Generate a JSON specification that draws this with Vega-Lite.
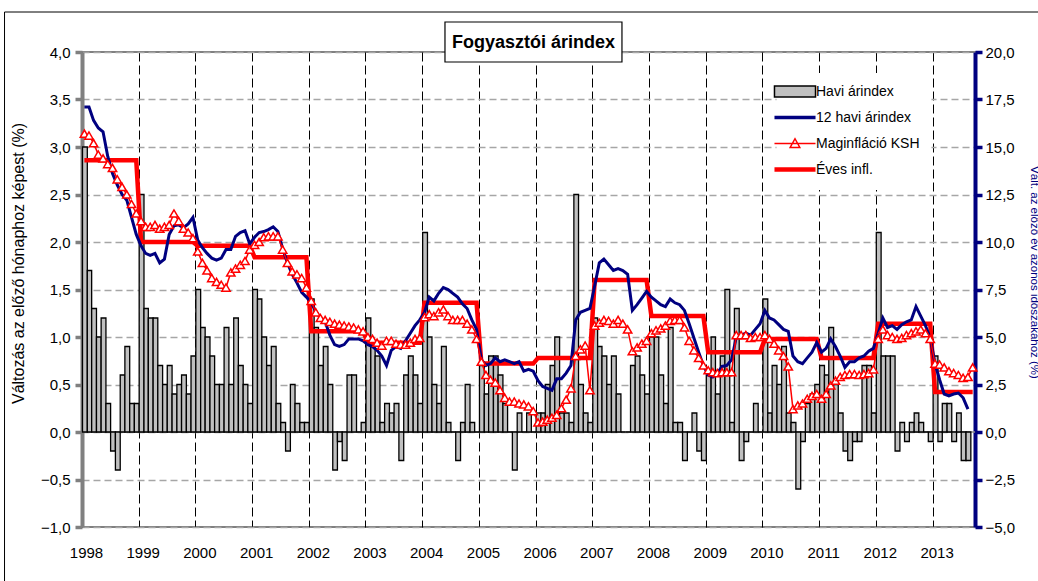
{
  "$schema": "https://vega.github.io/schema/vega-lite/v6.json",
  "width": 893,
  "height": 475,
  "autosize": {"type": "none"},
  "padding": {"left": 82, "top": 52, "right": 63, "bottom": 54},
  "background": "white",
  "config": {
    "font": "Liberation Sans",
    "view": {"stroke": "#808080", "strokeWidth": 2},
    "axis": {"labelFont": "Liberation Sans", "titleFont": "Liberation Sans", "labelColor": "black", "titleFontWeight": "normal"}
  },
  "data": {
    "format": {"parse": {"ho": "date:'%Y-%m'"}},
    "values": [
      {"ho":"1998-01","havi":3.0,"ev12":17.1,"mag":15.7,"eves":14.3},
      {"ho":"1998-02","havi":1.7,"ev12":17.1,"mag":15.6,"eves":14.3},
      {"ho":"1998-03","havi":1.3,"ev12":16.4,"mag":15.2,"eves":14.3},
      {"ho":"1998-04","havi":1.0,"ev12":16.0,"mag":14.6,"eves":14.3},
      {"ho":"1998-05","havi":1.2,"ev12":15.8,"mag":14.4,"eves":14.3},
      {"ho":"1998-06","havi":0.3,"ev12":14.5,"mag":14.1,"eves":14.3},
      {"ho":"1998-07","havi":-0.2,"ev12":13.6,"mag":13.9,"eves":14.3},
      {"ho":"1998-08","havi":-0.4,"ev12":13.0,"mag":13.3,"eves":14.3},
      {"ho":"1998-09","havi":0.6,"ev12":12.5,"mag":12.9,"eves":14.3},
      {"ho":"1998-10","havi":0.9,"ev12":12.2,"mag":12.5,"eves":14.3},
      {"ho":"1998-11","havi":0.3,"ev12":11.3,"mag":12.0,"eves":14.3},
      {"ho":"1998-12","havi":0.3,"ev12":10.4,"mag":11.5,"eves":14.3},
      {"ho":"1999-01","havi":2.5,"ev12":9.8,"mag":11.1,"eves":10.0},
      {"ho":"1999-02","havi":1.3,"ev12":9.4,"mag":10.8,"eves":10.0},
      {"ho":"1999-03","havi":1.2,"ev12":9.3,"mag":10.8,"eves":10.0},
      {"ho":"1999-04","havi":1.2,"ev12":9.4,"mag":10.9,"eves":10.0},
      {"ho":"1999-05","havi":0.7,"ev12":8.9,"mag":10.7,"eves":10.0},
      {"ho":"1999-06","havi":0.5,"ev12":9.1,"mag":10.8,"eves":10.0},
      {"ho":"1999-07","havi":0.7,"ev12":10.4,"mag":10.9,"eves":10.0},
      {"ho":"1999-08","havi":0.4,"ev12":10.85,"mag":11.5,"eves":10.0},
      {"ho":"1999-09","havi":0.5,"ev12":10.9,"mag":11.1,"eves":10.0},
      {"ho":"1999-10","havi":0.6,"ev12":10.75,"mag":10.7,"eves":10.0},
      {"ho":"1999-11","havi":0.4,"ev12":10.95,"mag":10.5,"eves":10.0},
      {"ho":"1999-12","havi":0.8,"ev12":11.3,"mag":10.2,"eves":10.0},
      {"ho":"2000-01","havi":1.5,"ev12":10.1,"mag":9.5,"eves":9.8},
      {"ho":"2000-02","havi":1.1,"ev12":9.7,"mag":8.9,"eves":9.8},
      {"ho":"2000-03","havi":1.0,"ev12":9.4,"mag":8.5,"eves":9.8},
      {"ho":"2000-04","havi":0.8,"ev12":9.15,"mag":8.1,"eves":9.8},
      {"ho":"2000-05","havi":0.5,"ev12":9.05,"mag":7.9,"eves":9.8},
      {"ho":"2000-06","havi":0.5,"ev12":9.15,"mag":7.75,"eves":9.8},
      {"ho":"2000-07","havi":1.1,"ev12":9.6,"mag":7.6,"eves":9.8},
      {"ho":"2000-08","havi":0.5,"ev12":9.6,"mag":8.4,"eves":9.8},
      {"ho":"2000-09","havi":1.2,"ev12":10.3,"mag":8.6,"eves":9.8},
      {"ho":"2000-10","havi":0.7,"ev12":10.5,"mag":8.8,"eves":9.8},
      {"ho":"2000-11","havi":0.5,"ev12":10.6,"mag":9.0,"eves":9.8},
      {"ho":"2000-12","havi":0.3,"ev12":9.9,"mag":9.6,"eves":9.8},
      {"ho":"2001-01","havi":1.5,"ev12":10.25,"mag":9.85,"eves":9.2},
      {"ho":"2001-02","havi":1.4,"ev12":10.5,"mag":10.0,"eves":9.2},
      {"ho":"2001-03","havi":1.0,"ev12":10.55,"mag":10.25,"eves":9.2},
      {"ho":"2001-04","havi":0.7,"ev12":10.65,"mag":10.3,"eves":9.2},
      {"ho":"2001-05","havi":0.9,"ev12":10.8,"mag":10.3,"eves":9.2},
      {"ho":"2001-06","havi":0.3,"ev12":10.55,"mag":10.3,"eves":9.2},
      {"ho":"2001-07","havi":0.1,"ev12":9.65,"mag":9.6,"eves":9.2},
      {"ho":"2001-08","havi":-0.2,"ev12":8.9,"mag":8.9,"eves":9.2},
      {"ho":"2001-09","havi":0.5,"ev12":8.3,"mag":8.45,"eves":9.2},
      {"ho":"2001-10","havi":0.3,"ev12":7.85,"mag":8.3,"eves":9.2},
      {"ho":"2001-11","havi":0.1,"ev12":7.35,"mag":8.1,"eves":9.2},
      {"ho":"2001-12","havi":0.1,"ev12":7.1,"mag":7.6,"eves":9.2},
      {"ho":"2002-01","havi":1.4,"ev12":6.8,"mag":6.9,"eves":5.3},
      {"ho":"2002-02","havi":1.1,"ev12":6.35,"mag":6.3,"eves":5.3},
      {"ho":"2002-03","havi":0.7,"ev12":6.0,"mag":6.0,"eves":5.3},
      {"ho":"2002-04","havi":0.9,"ev12":5.8,"mag":5.9,"eves":5.3},
      {"ho":"2002-05","havi":0.5,"ev12":5.1,"mag":5.8,"eves":5.3},
      {"ho":"2002-06","havi":-0.4,"ev12":4.6,"mag":5.7,"eves":5.3},
      {"ho":"2002-07","havi":-0.1,"ev12":4.5,"mag":5.65,"eves":5.3},
      {"ho":"2002-08","havi":-0.3,"ev12":4.6,"mag":5.6,"eves":5.3},
      {"ho":"2002-09","havi":0.6,"ev12":4.9,"mag":5.55,"eves":5.3},
      {"ho":"2002-10","havi":0.6,"ev12":4.9,"mag":5.5,"eves":5.3},
      {"ho":"2002-11","havi":0.0,"ev12":4.9,"mag":5.4,"eves":5.3},
      {"ho":"2002-12","havi":0.1,"ev12":4.8,"mag":5.3,"eves":5.3},
      {"ho":"2003-01","havi":1.2,"ev12":4.6,"mag":5.0,"eves":4.7},
      {"ho":"2003-02","havi":0.9,"ev12":4.5,"mag":4.9,"eves":4.7},
      {"ho":"2003-03","havi":0.8,"ev12":4.3,"mag":4.7,"eves":4.7},
      {"ho":"2003-04","havi":0.1,"ev12":4.0,"mag":4.55,"eves":4.7},
      {"ho":"2003-05","havi":0.3,"ev12":3.5,"mag":4.8,"eves":4.7},
      {"ho":"2003-06","havi":0.2,"ev12":4.3,"mag":4.8,"eves":4.7},
      {"ho":"2003-07","havi":0.3,"ev12":4.5,"mag":4.65,"eves":4.7},
      {"ho":"2003-08","havi":-0.3,"ev12":4.4,"mag":4.6,"eves":4.7},
      {"ho":"2003-09","havi":0.6,"ev12":4.8,"mag":4.6,"eves":4.7},
      {"ho":"2003-10","havi":0.8,"ev12":5.2,"mag":4.7,"eves":4.7},
      {"ho":"2003-11","havi":0.6,"ev12":5.6,"mag":4.9,"eves":4.7},
      {"ho":"2003-12","havi":0.3,"ev12":5.9,"mag":4.95,"eves":4.7},
      {"ho":"2004-01","havi":2.1,"ev12":6.3,"mag":6.05,"eves":6.8},
      {"ho":"2004-02","havi":1.0,"ev12":7.1,"mag":6.2,"eves":6.8},
      {"ho":"2004-03","havi":0.5,"ev12":6.9,"mag":6.1,"eves":6.8},
      {"ho":"2004-04","havi":0.3,"ev12":7.3,"mag":6.3,"eves":6.8},
      {"ho":"2004-05","havi":0.9,"ev12":7.6,"mag":6.45,"eves":6.8},
      {"ho":"2004-06","havi":0.1,"ev12":7.5,"mag":6.1,"eves":6.8},
      {"ho":"2004-07","havi":0.0,"ev12":7.3,"mag":5.9,"eves":6.8},
      {"ho":"2004-08","havi":-0.3,"ev12":7.1,"mag":5.9,"eves":6.8},
      {"ho":"2004-09","havi":0.1,"ev12":6.75,"mag":5.9,"eves":6.8},
      {"ho":"2004-10","havi":0.5,"ev12":6.5,"mag":5.7,"eves":6.8},
      {"ho":"2004-11","havi":0.1,"ev12":5.9,"mag":5.4,"eves":6.8},
      {"ho":"2004-12","havi":0.0,"ev12":5.4,"mag":4.9,"eves":6.8},
      {"ho":"2005-01","havi":0.7,"ev12":3.8,"mag":3.7,"eves":3.6},
      {"ho":"2005-02","havi":0.4,"ev12":3.5,"mag":3.0,"eves":3.6},
      {"ho":"2005-03","havi":0.8,"ev12":3.6,"mag":2.75,"eves":3.6},
      {"ho":"2005-04","havi":0.8,"ev12":3.9,"mag":2.6,"eves":3.6},
      {"ho":"2005-05","havi":0.6,"ev12":3.7,"mag":2.2,"eves":3.6},
      {"ho":"2005-06","havi":0.3,"ev12":3.8,"mag":1.8,"eves":3.6},
      {"ho":"2005-07","havi":0.0,"ev12":3.7,"mag":1.6,"eves":3.6},
      {"ho":"2005-08","havi":-0.4,"ev12":3.6,"mag":1.6,"eves":3.6},
      {"ho":"2005-09","havi":0.2,"ev12":3.7,"mag":1.5,"eves":3.6},
      {"ho":"2005-10","havi":0.0,"ev12":3.2,"mag":1.45,"eves":3.6},
      {"ho":"2005-11","havi":0.2,"ev12":3.3,"mag":1.35,"eves":3.6},
      {"ho":"2005-12","havi":0.0,"ev12":3.2,"mag":1.1,"eves":3.6},
      {"ho":"2006-01","havi":0.2,"ev12":2.7,"mag":0.5,"eves":3.9},
      {"ho":"2006-02","havi":0.2,"ev12":2.4,"mag":0.55,"eves":3.9},
      {"ho":"2006-03","havi":0.5,"ev12":2.3,"mag":0.65,"eves":3.9},
      {"ho":"2006-04","havi":0.7,"ev12":2.2,"mag":0.75,"eves":3.9},
      {"ho":"2006-05","havi":1.0,"ev12":2.8,"mag":0.9,"eves":3.9},
      {"ho":"2006-06","havi":0.2,"ev12":2.8,"mag":1.25,"eves":3.9},
      {"ho":"2006-07","havi":0.2,"ev12":3.1,"mag":1.7,"eves":3.9},
      {"ho":"2006-08","havi":0.1,"ev12":3.5,"mag":2.3,"eves":3.9},
      {"ho":"2006-09","havi":2.5,"ev12":5.9,"mag":4.0,"eves":3.9},
      {"ho":"2006-10","havi":0.5,"ev12":6.3,"mag":4.35,"eves":3.9},
      {"ho":"2006-11","havi":0.2,"ev12":6.4,"mag":4.55,"eves":3.9},
      {"ho":"2006-12","havi":0.1,"ev12":6.5,"mag":2.2,"eves":3.9},
      {"ho":"2007-01","havi":1.2,"ev12":7.7,"mag":5.6,"eves":8.0},
      {"ho":"2007-02","havi":0.9,"ev12":8.9,"mag":5.75,"eves":8.0},
      {"ho":"2007-03","havi":0.8,"ev12":9.1,"mag":5.9,"eves":8.0},
      {"ho":"2007-04","havi":0.5,"ev12":8.8,"mag":5.85,"eves":8.0},
      {"ho":"2007-05","havi":0.8,"ev12":8.5,"mag":5.7,"eves":8.0},
      {"ho":"2007-06","havi":0.4,"ev12":8.6,"mag":5.9,"eves":8.0},
      {"ho":"2007-07","havi":0.0,"ev12":8.5,"mag":5.7,"eves":8.0},
      {"ho":"2007-08","havi":0.0,"ev12":8.3,"mag":5.4,"eves":8.0},
      {"ho":"2007-09","havi":0.7,"ev12":6.4,"mag":4.25,"eves":8.0},
      {"ho":"2007-10","havi":0.8,"ev12":6.7,"mag":4.45,"eves":8.0},
      {"ho":"2007-11","havi":0.6,"ev12":7.05,"mag":4.65,"eves":8.0},
      {"ho":"2007-12","havi":0.4,"ev12":7.4,"mag":4.8,"eves":8.0},
      {"ho":"2008-01","havi":1.0,"ev12":7.1,"mag":5.2,"eves":6.1},
      {"ho":"2008-02","havi":1.0,"ev12":6.9,"mag":5.35,"eves":6.1},
      {"ho":"2008-03","havi":0.6,"ev12":6.7,"mag":5.45,"eves":6.1},
      {"ho":"2008-04","havi":0.3,"ev12":6.6,"mag":5.6,"eves":6.1},
      {"ho":"2008-05","havi":1.1,"ev12":7.0,"mag":5.85,"eves":6.1},
      {"ho":"2008-06","havi":0.1,"ev12":6.8,"mag":5.9,"eves":6.1},
      {"ho":"2008-07","havi":0.1,"ev12":6.7,"mag":5.9,"eves":6.1},
      {"ho":"2008-08","havi":-0.3,"ev12":6.4,"mag":5.5,"eves":6.1},
      {"ho":"2008-09","havi":0.0,"ev12":5.7,"mag":4.8,"eves":6.1},
      {"ho":"2008-10","havi":0.2,"ev12":4.95,"mag":4.3,"eves":6.1},
      {"ho":"2008-11","havi":-0.2,"ev12":4.2,"mag":3.9,"eves":6.1},
      {"ho":"2008-12","havi":-0.3,"ev12":3.5,"mag":3.5,"eves":6.1},
      {"ho":"2009-01","havi":0.6,"ev12":3.0,"mag":3.25,"eves":4.2},
      {"ho":"2009-02","havi":1.0,"ev12":2.9,"mag":3.15,"eves":4.2},
      {"ho":"2009-03","havi":0.4,"ev12":3.1,"mag":3.1,"eves":4.2},
      {"ho":"2009-04","havi":0.8,"ev12":3.45,"mag":3.15,"eves":4.2},
      {"ho":"2009-05","havi":1.5,"ev12":3.5,"mag":3.15,"eves":4.2},
      {"ho":"2009-06","havi":0.1,"ev12":3.8,"mag":3.15,"eves":4.2},
      {"ho":"2009-07","havi":1.3,"ev12":5.0,"mag":5.1,"eves":4.2},
      {"ho":"2009-08","havi":-0.3,"ev12":5.1,"mag":5.1,"eves":4.2},
      {"ho":"2009-09","havi":-0.1,"ev12":5.2,"mag":5.1,"eves":4.2},
      {"ho":"2009-10","havi":0.0,"ev12":5.1,"mag":4.95,"eves":4.2},
      {"ho":"2009-11","havi":0.3,"ev12":5.4,"mag":5.0,"eves":4.2},
      {"ho":"2009-12","havi":0.0,"ev12":5.7,"mag":5.0,"eves":4.2},
      {"ho":"2010-01","havi":1.4,"ev12":6.4,"mag":5.1,"eves":4.9},
      {"ho":"2010-02","havi":0.2,"ev12":6.0,"mag":4.9,"eves":4.9},
      {"ho":"2010-03","havi":0.7,"ev12":5.9,"mag":4.65,"eves":4.9},
      {"ho":"2010-04","havi":0.5,"ev12":5.65,"mag":4.3,"eves":4.9},
      {"ho":"2010-05","havi":0.9,"ev12":5.4,"mag":4.0,"eves":4.9},
      {"ho":"2010-06","havi":0.2,"ev12":5.3,"mag":3.45,"eves":4.9},
      {"ho":"2010-07","havi":0.1,"ev12":4.0,"mag":1.2,"eves":4.9},
      {"ho":"2010-08","havi":-0.6,"ev12":3.7,"mag":1.4,"eves":4.9},
      {"ho":"2010-09","havi":-0.1,"ev12":3.6,"mag":1.5,"eves":4.9},
      {"ho":"2010-10","havi":0.3,"ev12":3.9,"mag":1.75,"eves":4.9},
      {"ho":"2010-11","havi":0.4,"ev12":4.2,"mag":1.9,"eves":4.9},
      {"ho":"2010-12","havi":0.5,"ev12":4.7,"mag":2.0,"eves":4.9},
      {"ho":"2011-01","havi":0.7,"ev12":4.2,"mag":1.75,"eves":3.9},
      {"ho":"2011-02","havi":0.6,"ev12":4.4,"mag":2.0,"eves":3.9},
      {"ho":"2011-03","havi":1.1,"ev12":4.9,"mag":2.45,"eves":3.9},
      {"ho":"2011-04","havi":0.5,"ev12":4.5,"mag":2.7,"eves":3.9},
      {"ho":"2011-05","havi":0.2,"ev12":4.0,"mag":2.9,"eves":3.9},
      {"ho":"2011-06","havi":-0.2,"ev12":3.4,"mag":3.0,"eves":3.9},
      {"ho":"2011-07","havi":-0.3,"ev12":3.7,"mag":3.05,"eves":3.9},
      {"ho":"2011-08","havi":-0.1,"ev12":3.7,"mag":3.05,"eves":3.9},
      {"ho":"2011-09","havi":-0.1,"ev12":3.9,"mag":3.0,"eves":3.9},
      {"ho":"2011-10","havi":0.7,"ev12":4.0,"mag":3.05,"eves":3.9},
      {"ho":"2011-11","havi":0.7,"ev12":4.25,"mag":3.1,"eves":3.9},
      {"ho":"2011-12","havi":0.2,"ev12":4.4,"mag":3.3,"eves":3.9},
      {"ho":"2012-01","havi":2.1,"ev12":5.2,"mag":4.9,"eves":5.7},
      {"ho":"2012-02","havi":0.8,"ev12":6.0,"mag":5.4,"eves":5.7},
      {"ho":"2012-03","havi":0.8,"ev12":5.5,"mag":5.1,"eves":5.7},
      {"ho":"2012-04","havi":0.8,"ev12":5.6,"mag":5.0,"eves":5.7},
      {"ho":"2012-05","havi":-0.2,"ev12":5.4,"mag":4.9,"eves":5.7},
      {"ho":"2012-06","havi":0.1,"ev12":5.65,"mag":4.95,"eves":5.7},
      {"ho":"2012-07","havi":-0.1,"ev12":5.8,"mag":5.1,"eves":5.7},
      {"ho":"2012-08","havi":0.1,"ev12":5.9,"mag":5.2,"eves":5.7},
      {"ho":"2012-09","havi":0.2,"ev12":6.6,"mag":5.3,"eves":5.7},
      {"ho":"2012-10","havi":0.1,"ev12":6.1,"mag":5.4,"eves":5.7},
      {"ho":"2012-11","havi":0.0,"ev12":5.6,"mag":5.2,"eves":5.7},
      {"ho":"2012-12","havi":-0.1,"ev12":4.95,"mag":4.9,"eves":5.7},
      {"ho":"2013-01","havi":0.8,"ev12":3.6,"mag":3.6,"eves":2.1},
      {"ho":"2013-02","havi":-0.1,"ev12":2.75,"mag":3.55,"eves":2.1},
      {"ho":"2013-03","havi":0.3,"ev12":2.0,"mag":3.4,"eves":2.1},
      {"ho":"2013-04","havi":0.3,"ev12":1.9,"mag":3.2,"eves":2.1},
      {"ho":"2013-05","havi":-0.1,"ev12":2.0,"mag":3.1,"eves":2.1},
      {"ho":"2013-06","havi":0.2,"ev12":2.05,"mag":3.0,"eves":2.1},
      {"ho":"2013-07","havi":-0.3,"ev12":1.8,"mag":2.85,"eves":2.1},
      {"ho":"2013-08","havi":-0.3,"ev12":1.2,"mag":2.9,"eves":2.1},
      {"ho":"2013-09","havi":null,"ev12":null,"mag":3.4,"eves":2.1}
    ]
  },
  "layer": [
    {
      "layer": [
        {
          "data": {"values": [{}]},
          "mark": {"type": "rule", "color": "#909090", "strokeWidth": 1.5},
          "encoding": {"y": {"datum": 0, "type": "quantitative"}}
        },
        {
          "mark": {"type": "bar", "filled": false, "fill": "#C0C0C0", "fillOpacity": 1, "strokeWidth": 1.3, "binSpacing": 0},
          "encoding": {
            "x": {
              "field": "ho", "timeUnit": "yearmonth", "type": "temporal",
              "scale": {"domain": [{"year": 1998, "month": 1, "date": 1}, {"year": 2013, "month": 10, "date": 1}]},
              "axis": {
                "title": null, "format": "%Y", "formatType": "time",
                "tickCount": {"interval": "year", "step": 1},
                "grid": true, "gridColor": "black", "gridDash": [9, 4], "gridWidth": 1,
                "ticks": false, "domain": false,
                "labelFontSize": 15, "labelPadding": 18, "labelOffset": 4,
                "labelAlign": "center", "labelFlush": false, "labelOverlap": false
              }
            },
            "y": {
              "field": "havi", "type": "quantitative",
              "scale": {"domain": [-1, 4], "nice": false, "zero": false},
              "axis": {
                "title": "Változás az előző hónaphoz képest (%)",
                "titleFontSize": 16, "titleColor": "black",
                "titleAngle": -90, "titleX": -59, "titleY": 211, "titleAlign": "center", "titleBaseline": "alphabetic",
                "values": [-1, -0.5, 0, 0.5, 1, 1.5, 2, 2.5, 3, 3.5, 4],
                "labelExpr": "replace(format(datum.value, '.1f'), '.', ',')",
                "labelFontSize": 15, "labelPadding": 5,
                "tickSize": 7, "tickWidth": 3.5, "tickColor": "#808080",
                "domainColor": "#808080", "domainWidth": 4,
                "grid": true, "gridColor": "#a6a6a6", "gridDash": [7, 4], "gridWidth": 1.5
              }
            },
            "color": {
              "datum": "Havi árindex", "type": "nominal",
              "scale": {"domain": ["Havi árindex", "12 havi árindex", "Maginfláció KSH", "Éves infl."], "range": ["black", "#000080", "#FF0000", "#FF0000"]},
              "legend": {
                "orient": "none", "legendX": 694.5, "legendY": 21, "title": null,
                "fillColor": "white", "padding": 11.5, "symbolSize": 576,
                "labelFontSize": 14, "labelFont": "Liberation Sans", "labelColor": "black",
                "labelOffset": 14, "rowPadding": 8, "gridAlign": "all", "labelLimit": 300,
                "symbolOpacity": 1,
                "symbolType": {"expr": "datum.value === 'Havi árindex' ? 'M-1.71,-0.45H1.71V0.45H-1.71Z' : datum.value === 'Maginfláció KSH' ? 'M-1.71,0H1.71M-0.4,0.33L0,-0.4L0.4,0.33Z' : 'M-1.71,0H1.71'"},
                "symbolFillColor": {"expr": "datum.value === 'Havi árindex' ? '#C0C0C0' : datum.value === 'Maginfláció KSH' ? 'white' : 'transparent'"},
                "symbolStrokeColor": {"expr": "datum.value === 'Havi árindex' ? 'black' : datum.value === '12 havi árindex' ? '#000080' : '#FF0000'"},
                "symbolStrokeWidth": {"expr": "datum.value === 'Havi árindex' ? 1.5 : datum.value === '12 havi árindex' ? 3.5 : datum.value === 'Maginfláció KSH' ? 1.5 : 4.5"}
              }
            }
          }
        },
        {
          "data": {"values": [{}]},
          "mark": {"type": "rect", "fill": "white", "stroke": "black", "strokeWidth": 1.2},
          "encoding": {
            "x": {"datum": {"year": 2004, "month": 5, "date": 27}, "type": "temporal"},
            "x2": {"datum": {"year": 2007, "month": 7, "date": 11}},
            "y": {"datum": 4.316, "type": "quantitative"},
            "y2": {"datum": 3.895}
          }
        },
        {
          "data": {"values": [{}]},
          "mark": {"type": "text", "text": "Fogyasztói árindex", "font": "Liberation Sans", "fontSize": 18, "fontWeight": "bold", "color": "black", "align": "center", "baseline": "alphabetic"},
          "encoding": {
            "x": {"datum": {"year": 2005, "month": 12, "date": 18}, "type": "temporal"},
            "y": {"datum": 4.047, "type": "quantitative"}
          }
        },
        {
          "data": {"values": [{}]},
          "mark": {"type": "rect", "fill": null, "fillOpacity": 0, "stroke": "black", "strokeWidth": 1},
          "encoding": {
            "x": {"datum": {"year": 1996, "month": 8, "date": 20}, "type": "temporal"},
            "x2": {"datum": {"year": 2016, "month": 1, "date": 1}},
            "y": {"datum": 4.421, "type": "quantitative"},
            "y2": {"datum": -2}
          }
        }
      ]
    },
    {
      "layer": [
        {
          "mark": {"type": "line", "strokeWidth": 4.5},
          "encoding": {
            "x": {"field": "ho", "timeUnit": "yearmonth", "type": "temporal", "bandPosition": 0.5},
            "y": {
              "field": "eves", "type": "quantitative",
              "scale": {"domain": [-5, 20], "nice": false, "zero": false},
              "axis": {
                "orient": "right",
                "title": "Vált. az előző év azonos időszakához (%)",
                "titleColor": "#000080", "titleFontSize": 11.5,
                "titleAngle": 90, "titleX": 55, "titleY": 220, "titleAlign": "center", "titleBaseline": "alphabetic",
                "values": [-5, -2.5, 0, 2.5, 5, 7.5, 10, 12.5, 15, 17.5, 20],
                "labelExpr": "replace(format(datum.value, '.1f'), '.', ',')",
                "labelFontSize": 15, "labelPadding": 3,
                "tickSize": 7, "tickWidth": 3.5, "tickColor": "#000080",
                "domainColor": "#000080", "domainWidth": 4,
                "grid": false
              }
            },
            "color": {"datum": "Éves infl.", "type": "nominal"}
          }
        },
        {
          "mark": {"type": "line", "strokeWidth": 3},
          "encoding": {
            "x": {"field": "ho", "timeUnit": "yearmonth", "type": "temporal", "bandPosition": 0.5},
            "y": {"field": "ev12", "type": "quantitative"},
            "color": {"datum": "12 havi árindex", "type": "nominal", "legend": {"encode": {"labels": {"fontSize": {"value": 14}}}}}
          }
        },
        {
          "mark": {"type": "line", "strokeWidth": 1.5},
          "encoding": {
            "x": {"field": "ho", "timeUnit": "yearmonth", "type": "temporal", "bandPosition": 0.5},
            "y": {"field": "mag", "type": "quantitative"},
            "color": {"datum": "Maginfláció KSH", "type": "nominal"}
          }
        },
        {
          "mark": {"type": "point", "shape": "triangle-up", "size": 70, "filled": true, "fill": "white", "stroke": "#FF0000", "strokeWidth": 1.5, "opacity": 1},
          "encoding": {
            "x": {"field": "ho", "timeUnit": "yearmonth", "type": "temporal", "bandPosition": 0.5},
            "y": {"field": "mag", "type": "quantitative"}
          }
        }
      ]
    }
  ],
  "resolve": {"scale": {"y": "independent"}}
}
